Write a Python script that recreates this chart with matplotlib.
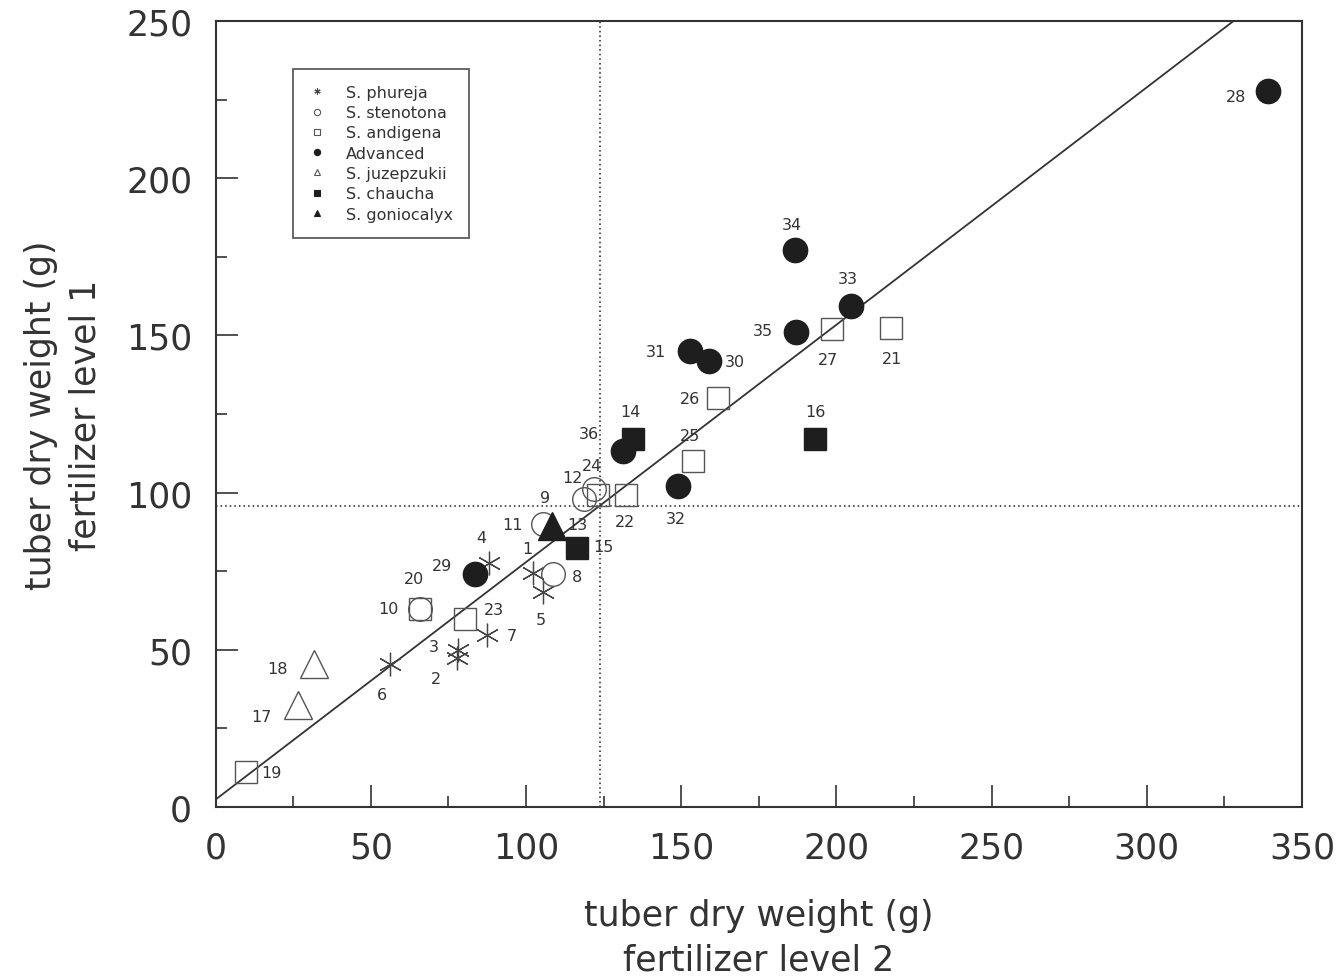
import matplotlib
matplotlib.use("Agg")
import matplotlib.pyplot as plt
from matplotlib.lines import Line2D

plt.rcParams['font.family'] = ['DejaVu Sans']

###################################
# Data

# S. phureja (asterisks)
phureja_ids = [1, 2, 3, 4, 5, 6, 7]
phureja_x = [102.2, 77.7, 78.0, 88.0, 105.4, 56.1, 87.4]
phureja_y = [74.4, 47.4, 50.0, 77.6, 68.4, 45.5, 54.7]

# S. stenotona (open circles)
stenotona_ids = [8, 11, 12, 24, 10]
stenotona_x = [108.6, 105.4, 118.6, 121.8, 65.7]
stenotona_y = [74.1, 90.0, 98.0, 101.1, 63.0]

# S. andigena (open squares)
andigena_ids = [20, 19, 23, 22, 13, 25, 26, 27, 21]
andigena_x = [65.7, 9.7, 80.2, 132.1, 123.1, 153.7, 161.8, 198.5, 217.5]
andigena_y = [63.0, 11.1, 59.8, 99.2, 99.2, 110.1, 130.1, 152.0, 152.4]

# Advanced (filled circles)
advanced_ids = [28, 34, 33, 35, 31, 30, 36, 32, 29]
advanced_x = [339.0, 186.6, 204.6, 186.9, 152.8, 158.9, 131.2, 148.9, 83.5]
advanced_y = [227.7, 177.2, 159.4, 151.1, 145.0, 141.9, 113.2, 102.1, 74.1]

# S. juzepzukii (open triangles)
juzepzukii_ids = [18, 17]
juzepzukii_x = [31.6, 26.4]
juzepzukii_y = [45.5, 32.4]

# S. chaucha (filled squares)
chaucha_ids = [14, 16, 15]
chaucha_x = [134.4, 193.0, 116.3]
chaucha_y = [117.0, 117.0, 82.4]

# S. goniocalyx (filled triangle)
goniocalyx_ids = [9]
goniocalyx_x = [108.3]
goniocalyx_y = [89.4]

# regression line and means
fit_intercept = 2.4
fit_slope = 0.755
mean_x = 123.8
mean_y = 95.7

###################################
# Label offsets (pixels, y down) from each marker

label_offsets = {
    1: (-6, -25), 2: (-21, 21), 3: (-24, -3), 4: (-8, -26), 5: (-2, 28),
    6: (-8, 31), 7: (25, 0),
    8: (24, 2), 11: (-30, 0), 12: (-11, -21), 24: (-2, -24), 10: (-31, 0),
    20: (-6, -30), 19: (26, 0), 23: (29, -9), 22: (-1, 26), 13: (-20, 29),
    25: (-3, -25), 26: (-28, 1), 27: (-4, 30), 21: (1, 31),
    28: (-32, 5), 34: (-3, -25), 33: (-3, -27), 35: (-33, -1), 31: (-34, 0),
    30: (26, 1), 36: (-34, -18), 32: (-2, 33), 29: (-33, -9),
    18: (-36, 5), 17: (-36, 11),
    14: (-2, -28), 16: (1, -28), 15: (27, -1),
    9: (-7, -28),
}

DARK = '#1e1e1e'
EDGE = '#555555'
TEXT = '#333333'

fig = plt.figure(figsize=(13.4, 9.79), dpi=100)
ax = fig.add_axes([0.161, 0.1747, 0.8106, 0.8028])

# dotted mean lines
ax.axvline(mean_x, color=DARK, linestyle=(0, (1, 2)), linewidth=1.1, zorder=1)
ax.axhline(mean_y, color=DARK, linestyle=(0, (1, 2)), linewidth=1.1, zorder=1)

# fitted line
fit_x = [0, 350]
fit_y = [fit_intercept + fit_slope * v for v in fit_x]
ax.plot(fit_x, fit_y, color='#333333', linewidth=1.3, zorder=2)

groups = [
    ('S. phureja', phureja_ids, phureja_x, phureja_y,
     dict(marker=(6, 2, 0), markersize=17, color='#444444', markeredgewidth=0.9), 4.5),
    ('S. stenotona', stenotona_ids, stenotona_x, stenotona_y,
     dict(marker='o', markersize=17, markerfacecolor='none', markeredgecolor=EDGE, markeredgewidth=1.0), 4.5),
    ('S. andigena', andigena_ids, andigena_x, andigena_y,
     dict(marker='s', markersize=16, markerfacecolor='none', markeredgecolor=EDGE, markeredgewidth=1.0), 4.5),
    ('Advanced', advanced_ids, advanced_x, advanced_y,
     dict(marker='o', markersize=17.5, markerfacecolor=DARK, markeredgecolor=DARK), 4.5),
    ('S. juzepzukii', juzepzukii_ids, juzepzukii_x, juzepzukii_y,
     dict(marker='^', markersize=20, markerfacecolor='none', markeredgecolor=EDGE, markeredgewidth=1.0), 5),
    ('S. chaucha', chaucha_ids, chaucha_x, chaucha_y,
     dict(marker='s', markersize=15.5, markerfacecolor=DARK, markeredgecolor=DARK), 4.5),
    ('S. goniocalyx', goniocalyx_ids, goniocalyx_x, goniocalyx_y,
     dict(marker='^', markersize=20, markerfacecolor=DARK, markeredgecolor=DARK), 5),
]

handles = []
for name, ids, xs, ys, style, legend_size in groups:
    ax.plot(xs, ys, linestyle='none', zorder=3, **style)
    for pid, px, py in zip(ids, xs, ys):
        dx, dy = label_offsets[pid]
        ax.annotate(str(pid), (px, py), xytext=(dx * 0.72, -dy * 0.72),
                    textcoords='offset points', ha='center', va='center',
                    fontsize=11.5, color=TEXT, zorder=4)
    leg_style = dict(style)
    leg_style['markersize'] = legend_size
    leg_style['markeredgewidth'] = 0.8
    handles.append(Line2D([], [], linestyle='none', label=name, **leg_style))

leg = ax.legend(handles=handles, loc='upper left', bbox_to_anchor=(0.071, 0.939),
                fontsize=11.5, frameon=True, fancybox=False, borderpad=1.0,
                labelspacing=0.33, handlelength=1.0, handletextpad=1.3,
                borderaxespad=0, edgecolor='#333333', labelcolor=TEXT)
leg.get_frame().set_linewidth(1.3)

ax.set_xlim(0, 350)
ax.set_ylim(0, 250)
ax.set_xticks(range(0, 351, 50))
ax.set_yticks(range(0, 251, 50))
ax.set_xticks(range(25, 351, 50), minor=True)
ax.set_yticks(range(25, 251, 50), minor=True)
ax.tick_params(which='major', direction='in', length=16, width=1.2, colors='#333333',
               labelsize=25, pad=17, labelcolor=TEXT)
ax.tick_params(which='minor', direction='in', length=8, width=1.2, colors='#333333')
for spine in ax.spines.values():
    spine.set_linewidth(1.5)
    spine.set_color('#333333')

ax.set_xlabel('tuber dry weight (g)\nfertilizer level 2', fontsize=25, color=TEXT,
              labelpad=24, linespacing=1.38)
ax.set_ylabel('tuber dry weight (g)\nfertilizer level 1', fontsize=25, color=TEXT,
              labelpad=17, linespacing=1.38)

fig.savefig('out.png', dpi=100)
